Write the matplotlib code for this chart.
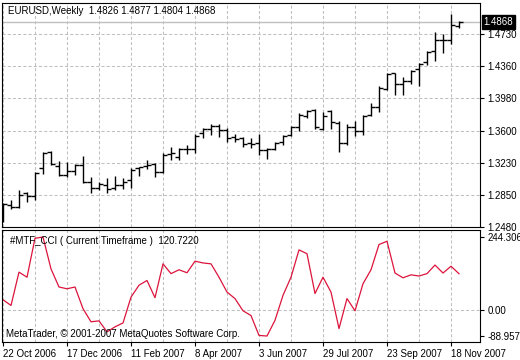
import matplotlib
matplotlib.use("Agg")
import matplotlib.pyplot as plt
import pandas as pd

plt.rcParams["font.family"] = ["Liberation Sans", "DejaVu Sans"]
plt.rcParams["font.size"] = 7

# weekly EURUSD bars, first bar = week of 22 Oct 2006
bar_open = [1.2573, 1.2736, 1.2717, 1.2873, 1.2841, 1.3164, 1.3358, 1.3191, 1.3086, 1.3136,
            1.3205, 1.3008, 1.2938, 1.2970, 1.2931, 1.2970, 1.3028, 1.3164, 1.3191, 1.3211,
            1.3118, 1.3327, 1.3299, 1.3386, 1.3389, 1.3572, 1.3622, 1.3657, 1.3611, 1.3525,
            1.3521, 1.3456, 1.3456, 1.3383, 1.3389, 1.3474, 1.3558, 1.3640, 1.3774, 1.3844,
            1.3622, 1.3836, 1.3696, 1.3456, 1.3640, 1.3600, 1.3785, 1.3875, 1.4085, 1.4271,
            1.4144, 1.4185, 1.4325, 1.4403, 1.4528, 1.4663, 1.4660, 1.4826]
bar_high = [1.2763, 1.2795, 1.2911, 1.2891, 1.3125, 1.3358, 1.3366, 1.3253, 1.3241, 1.3211,
            1.3313, 1.3066, 1.3001, 1.3048, 1.3074, 1.3048, 1.3164, 1.3183, 1.3261, 1.3222,
            1.3339, 1.3409, 1.3404, 1.3436, 1.3560, 1.3637, 1.3677, 1.3677, 1.3630, 1.3560,
            1.3532, 1.3521, 1.3560, 1.3397, 1.3474, 1.3552, 1.3663, 1.3809, 1.3844, 1.3855,
            1.3826, 1.3844, 1.3719, 1.3680, 1.3719, 1.3785, 1.3922, 1.4123, 1.4271, 1.4278,
            1.4228, 1.4313, 1.4391, 1.4528, 1.4753, 1.4729, 1.4963, 1.4877]
bar_low = [1.2535, 1.2686, 1.2698, 1.2768, 1.2795, 1.3094, 1.3203, 1.3074, 1.3066, 1.3086,
           1.2993, 1.2873, 1.2911, 1.2880, 1.2911, 1.2919, 1.2931, 1.3078, 1.3152, 1.3066,
           1.3113, 1.3261, 1.3261, 1.3327, 1.3339, 1.3521, 1.3552, 1.3532, 1.3467, 1.3467,
           1.3412, 1.3404, 1.3316, 1.3273, 1.3372, 1.3436, 1.3541, 1.3599, 1.3754, 1.3628,
           1.3611, 1.3628, 1.3358, 1.3440, 1.3540, 1.3552, 1.3774, 1.3824, 1.4077, 1.4018,
           1.4015, 1.4147, 1.4120, 1.4365, 1.4418, 1.4508, 1.4613, 1.4804]
bar_close = [1.2748, 1.2717, 1.2853, 1.2841, 1.3106, 1.3346, 1.3214, 1.3086, 1.3136, 1.3203,
             1.3004, 1.2938, 1.2978, 1.2923, 1.2970, 1.3008, 1.3144, 1.3176, 1.3203, 1.3118,
             1.3319, 1.3339, 1.3386, 1.3389, 1.3541, 1.3622, 1.3661, 1.3611, 1.3521, 1.3506,
             1.3447, 1.3452, 1.3377, 1.3389, 1.3456, 1.3541, 1.3646, 1.3791, 1.3832, 1.3642,
             1.3774, 1.3707, 1.3459, 1.3640, 1.3600, 1.3774, 1.3875, 1.4097, 1.4263, 1.4143,
             1.4184, 1.4302, 1.4380, 1.4516, 1.4663, 1.4660, 1.4838, 1.4868]
cci = [33, 14, 126, 109, 240, 244.3068, 137, 76, 70, 76,
       3, -41, -38, -75, -58, -45, 42, 82, 98, 40,
       154, 121, 134, 124, 163, 157, 154, 109, 59, 37,
       -4, -20, -87, -88.9579, -36, 48, 109, 201, 188, 54,
       109, 59, -64, 37, -4, 87, 134, 219, 230, 123,
       107, 117, 113, 121, 150, 123, 146, 120.722]
price_ticks = [1.2480, 1.2850, 1.3230, 1.3600, 1.3980, 1.4360, 1.4730]
cci_ticks = [-88.9579, 0.0, 244.3068]
cci_labels = ["-88.9579", "0.00", "244.3068"]

dates = pd.date_range("2006-10-22", periods=len(bar_close), freq="7D")
x = list(range(len(bar_close)))

W, H = 520, 360
grid_kw = dict(color="#c0c0c0", linestyle=(0, (3, 2)), linewidth=0.75)

fig = plt.figure(figsize=(W / 100, H / 100), dpi=100)
ax = fig.add_axes([2 / W, 1 - 227 / H, 478 / W, 224 / H])
ax2 = fig.add_axes([2 / W, 1 - 342 / H, 478 / W, 112 / H])

# price bars
ax.axhline(bar_close[-1], color="#c0c0c0", linewidth=1.0, zorder=1)
ax.vlines(x, bar_low, bar_high, color="black", linewidth=1.0, zorder=3)
ax.hlines(bar_open, [i - 0.45 for i in x], x, color="black", linewidth=1.0, zorder=3)
ax.hlines(bar_close, x, [i + 0.45 for i in x], color="black", linewidth=1.0, zorder=3)

ax.set_xlim(-0.125, 59.625)
ax.set_ylim(1.2480, 1.5091)
ax.set_xticks(range(0, 60, 4))
ax.set_xticklabels([])
ax.tick_params(axis="x", length=0)
ax.yaxis.tick_right()
ax.set_yticks(price_ticks)
ax.set_yticklabels([f"{p:.4f}" for p in price_ticks])
ax.tick_params(axis="y", direction="out", length=3, width=0.8, pad=2.5)
ax.grid(True, **grid_kw)
ax.set_axisbelow(True)

ax.annotate(f"{bar_close[-1]:.4f}", xy=(1, bar_close[-1]), xycoords=("axes fraction", "data"),
            xytext=(2.5, 0), textcoords="offset points", va="center", ha="left", color="white",
            bbox=dict(boxstyle="square,pad=0.18", fc="black", ec="black"), annotation_clip=False)

# CCI window
ax2.plot(x, cci, color="#dc143c", linewidth=0.9)
ax2.axhline(0, **grid_kw, zorder=0)
ax2.set_xlim(-0.125, 59.625)
ax2.set_ylim(-109.1, 267.9)
ax2.set_xticks(range(0, len(x), 8))
ax2.set_xticklabels([f"{d.day} {d.strftime('%b %Y')}" for d in dates[::8]], ha="left")
ax2.set_xticks(range(4, 60, 8), minor=True)
ax2.tick_params(axis="x", which="major", direction="out", length=3, width=0.8, pad=2)
ax2.tick_params(axis="x", which="minor", length=0)
ax2.xaxis.grid(True, which="both", **grid_kw)
ax2.yaxis.tick_right()
ax2.set_yticks(cci_ticks)
ax2.set_yticklabels(cci_labels)
ax2.tick_params(axis="y", direction="out", length=3, width=0.8, pad=2.5)
ax2.set_axisbelow(True)

for a in (ax, ax2):
    for s in a.spines.values():
        s.set_linewidth(0.8)

fig.text(8 / W, 1 - 11 / H,
         f"EURUSD,Weekly  {bar_open[-1]:.4f} {bar_high[-1]:.4f} {bar_low[-1]:.4f} {bar_close[-1]:.4f}",
         va="center")
fig.text(10 / W, 1 - 241 / H, f"#MTF_CCI ( Current Timeframe )  {cci[-1]:.4f}", va="center")
fig.text(6 / W, 1 - 334 / H, "MetaTrader, © 2001-2007 MetaQuotes Software Corp.", va="center")

fig.savefig("out.png", dpi=100)
